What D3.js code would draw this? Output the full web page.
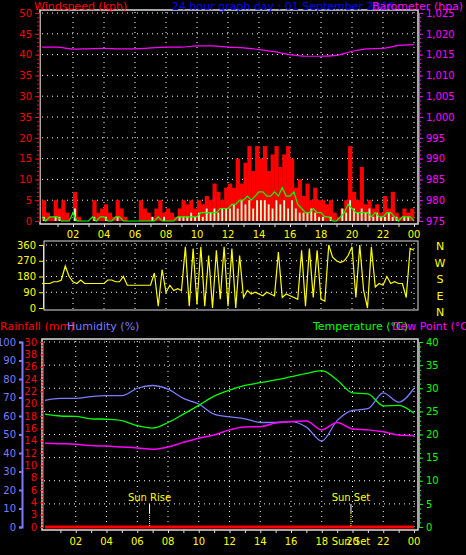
<!DOCTYPE html>
<html><head><meta charset="utf-8">
<script src="https://cdn.jsdelivr.net/npm/d3@7"></script>
<style>body{margin:0;background:#000}svg{display:block}text{font-family:"DejaVu Sans",sans-serif}</style>
</head><body><svg id="chart" width="466" height="555"></svg>
<script>
// quarter-hour samples, 00:00 .. 24:00
var gust = [5,2,1,5, 3,5,2,0, 7,1,0,0, 0,5,2,3, 4,2,1,5, 3,1,0,0, 0,5,3,2, 1,3,5,2, 3,2,1,3, 5,4,5,3,
  5,4,6,5, 9,7,5,8, 9,8,15,9, 14,18,12,18, 15,18,12,16, 18,13,16,18, 15,8,10,6, 9,5,8,5, 5,4,5,2,
  1,3,5,18, 7,5,13,4, 5,3,4,2, 6,3,7,2, 1,3,2,3, 0];
var windAvg = [1,0,1,1, 1,0,0,0, 2,0,0,0, 0,1,0,1, 1,0,0,1, 1,0,0,0, 0,0,0,0, 0,0,1,0, 0,0,0,1, 1,1,1,1,
  1,2,2,2, 2,2,3,3, 3,4,4,5, 5,6,5,6, 7,7,6,6, 7,6,8,6, 6,7,4,3, 2,2,3,2, 2,1,1,0, 0,1,2,4,
  3,2,2,2, 2,1,2,1, 1,2,2,1, 0,1,1,1, 0];
var windSpd = [1,0,0,1, 1,0,0,0, 3,0,0,0, 0,1,0,0, 1,0,0,1, 0,0,0,0, 0,0,0,0, 1,0,0,1, 0,0,0,1, 1,1,2,1,
  2,1,3,2, 3,2,3,3, 3,4,3,5, 4,5,3,5, 5,5,4,3, 5,4,5,3, 5,3,2,2, 2,3,2,1, 1,0,1,0, 0,3,2,5,
  3,2,3,2, 3,1,2,1, 1,2,1,1, 0,1,1,0, 0];
var windDir = [140,140,140,150, 150,160,240,180, 150,140,160,140, 140,140,140,140, 140,160,160,150,
  150,180,130,130, 130,130,130,130, 130,200,10,220, 90,130,100,110, 100,350,10,340, 20,350,10,300,
  0,330,50,350, 10,340,0,300, 60,100,80,90, 80,70,90,80, 70,320,60,80, 70,60,50,330, 10,340,60,330,
  50,40,360,290, 270,260,270,300, 350,60,360,100, 0,350,120,140, 130,180,140,150, 140,140,60,340, 330];
// hourly samples, 00 .. 24
var baro = [1016.8,1016.8,1016.3,1016.4,1016.5,1016.4,1016.4,1016.6,1016.8,1016.8,1017.1,1017.1,1016.8,
  1016.6,1016.2,1015.7,1015.0,1014.6,1014.6,1014.8,1015.8,1016.4,1016.5,1017.2,1017.4];
var temp = [24.4,24,23.9,23.4,23.3,23,21.9,21.4,22.6,24.4,26.3,28.3,29.6,30.6,31.2,31.8,32.5,33.2,33.8,
  31.8,29,28.8,26.2,26.3,24.6];
var humidity = [68.5,69.5,69.5,70.5,71,71,75,76.5,74.5,69.5,66.5,61,59.5,58.5,56.5,56.5,57,54,46.5,57.5,
  63,64,72.5,67.5,75];
var dewPoint = [18.1,18,17.9,17.6,17.5,17.3,17.1,16.8,17.3,18.3,19.2,19.9,21,21.6,21.7,22.5,22.8,22.9,21,
  22.6,21.2,21,20.6,19.9,19.8];
var rain = [0,0,0,0,0,0,0,0,0,0,0,0,0,0,0,0,0,0,0,0,0,0,0,0,0];
var hourLabels = ["02","04","06","08","10","12","14","16","18","20","22","00"];
var windLabels = ["0","5","10","15","20","35","30","35","40","45","50"];
var rainLabels = ["0","3","4","6","8","10","12","14","16","18","20","22","24","26","38","30"];
var compass = ["N","W","S","E","N"];
var sunRise = 6.8, sunSet = 19.9;

var svg = d3.select("#chart");
var q = d3.range(97).map(i => i / 4), hr = d3.range(25);

function dotted(g, x1, y1, x2, y2){
  g.append("line").attr("x1",x1).attr("y1",y1).attr("x2",x2).attr("y2",y2)
    .attr("stroke","#fff").attr("stroke-width",1).attr("stroke-dasharray","1,4");
}
function txt(x, y, s, c, anchor, size){
  return svg.append("text").attr("x",x).attr("y",y).attr("fill",c).attr("font-size",size||10)
    .attr("text-anchor",anchor||"start").text(s);
}

// ---------- TOP PANEL ----------
var x1 = d3.scaleLinear().domain([0,24]).range([42,414]);
var yW = d3.scaleLinear().domain([0,50]).range([221,13]);
var yB = d3.scaleLinear().domain([975,1025]).range([221,13]);
var topG = svg.append("g");
topG.append("rect").attr("x",40).attr("y",10).attr("width",378).attr("height",214)
  .attr("fill","none").attr("stroke","#ddd").attr("stroke-width",1.5);
d3.range(0,51,5).forEach(v => { if(v>0) dotted(topG,42,yW(v),416,yW(v)); });
d3.range(2,25,2).forEach(h => dotted(topG,x1(h),12,x1(h),222));
var bw = x1(0.25)-x1(0);
topG.selectAll(".gust").data(gust).join("rect").attr("x",(d,i)=>x1(q[i])).attr("width",bw+0.3)
  .attr("y",d=>yW(d)).attr("height",d=>yW(0)-yW(d)).attr("fill","#f00");
topG.selectAll(".spd").data(windSpd).join("rect").attr("x",(d,i)=>x1(q[i])+1).attr("width",bw-2)
  .attr("y",d=>yW(d)).attr("height",d=>yW(0)-yW(d)).attr("fill","#ccffcc");
topG.append("path").datum(windAvg).attr("fill","none").attr("stroke","#0f0").attr("stroke-width",1.2)
  .attr("d",d3.line().x((d,i)=>x1(q[i])).y(d=>yW(d)));
topG.append("path").datum(baro).attr("fill","none").attr("stroke","#f0f").attr("stroke-width",1.2)
  .attr("d",d3.line().x((d,i)=>x1(hr[i])).y(d=>yB(d)).curve(d3.curveMonotoneX));
// left axis
var axL = topG.append("g").attr("transform","translate(39,0)")
  .call(d3.axisLeft(yW).tickValues(d3.range(0,51,5)).tickSize(4).tickFormat((d,i)=>windLabels[i]));
axL.append("g").call(d3.axisLeft(yW).tickValues(d3.range(0,51,1)).tickSize(2).tickFormat(""));
axL.selectAll("path,line").attr("stroke","#f00");
axL.selectAll("text").attr("fill","#f00").attr("font-size",10);
var axR = topG.append("g").attr("transform","translate(419,0)")
  .call(d3.axisRight(yB).tickValues(d3.range(975,1026,5)).tickSize(4));
axR.append("g").call(d3.axisRight(yB).tickValues(d3.range(975,1026,1)).tickSize(2).tickFormat(""));
axR.selectAll("path,line").attr("stroke","#f0f");
axR.selectAll("text").attr("fill","#f0f").attr("font-size",10);
var axB = topG.append("g").attr("transform","translate(0,224)")
  .call(d3.axisBottom(x1).tickValues(d3.range(1,25)).tickSize(3).tickFormat(""));
axB.select("path").remove(); axB.selectAll("line").attr("stroke","#ddd");
hourLabels.forEach((s,i) => txt(x1((i+1)*2),238,s,"#ff0","middle"));
txt(34,10,"Windspeed (kph)","#f00","start",11);
txt(172,10,"24 hour graph day : 01 September 2026","#00f","start",11);
txt(372,10,"Barometer (hpa)","#f0f","start",11);

// ---------- MIDDLE PANEL ----------
var yD = d3.scaleLinear().domain([0,360]).range([308,245]);
var mid = svg.append("g");
mid.append("rect").attr("x",44).attr("y",241).attr("width",374).attr("height",69)
  .attr("fill","none").attr("stroke","#ddd").attr("stroke-width",1);
[90,180,270,360].forEach(v => dotted(mid,46,yD(v),416,yD(v)));
d3.range(2,25,2).forEach(h => dotted(mid,x1(h),243,x1(h),309));
mid.append("path").datum(windDir).attr("fill","none").attr("stroke","#ff0").attr("stroke-width",1.2)
  .attr("d",d3.line().x((d,i)=>x1(q[i])).y(d=>yD(d)));
var axD = mid.append("g").attr("transform","translate(43,0)")
  .call(d3.axisLeft(yD).tickValues([0,90,180,270,360]).tickSize(4));
axD.selectAll("path,line").attr("stroke","#ff0");
axD.selectAll("text").attr("fill","#ff0").attr("font-size",10);
compass.forEach((s,i) => txt(440,250+i*16.5,s,"#ff0","middle",11));

// ---------- BOTTOM PANEL ----------
var x3 = d3.scaleLinear().domain([0,24]).range([45,414]);
var yT = d3.scaleLinear().domain([0,40]).range([527,342]);
var yH = d3.scaleLinear().domain([0,100]).range([527,342]);
var yR = d3.scaleLinear().domain([0,30]).range([527,342]);
var bot = svg.append("g");
bot.append("rect").attr("x",42).attr("y",339).attr("width",376).attr("height",191)
  .attr("fill","none").attr("stroke","#ddd").attr("stroke-width",1.5);
d3.range(5,41,5).forEach(v => dotted(bot,44,yT(v),416,yT(v)));
d3.range(2,25,2).forEach(h => dotted(bot,x3(h),341,x3(h),528));
bot.append("path").datum(rain).attr("fill","none").attr("stroke","#f00").attr("stroke-width",3)
  .attr("d",d3.line().x((d,i)=>x3(hr[i])).y(d=>yR(d)));
var line = sc => d3.line().x((d,i)=>x3(hr[i])).y(d=>sc(d)).curve(d3.curveMonotoneX);
bot.append("path").datum(humidity).attr("fill","none").attr("stroke","#7b7bff").attr("stroke-width",1.3).attr("d",line(yH));
bot.append("path").datum(temp).attr("fill","none").attr("stroke","#0f0").attr("stroke-width",1.3).attr("d",line(yT));
bot.append("path").datum(dewPoint).attr("fill","none").attr("stroke","#f0f").attr("stroke-width",1.5).attr("d",line(yT));
// sun rise / set markers
[[sunRise,"Sun Rise"],[sunSet,"Sun Set"]].forEach(m => {
  bot.append("line").attr("x1",x3(m[0])).attr("x2",x3(m[0])).attr("y1",504).attr("y2",513).attr("stroke","#fff");
  bot.append("line").attr("x1",x3(m[0])).attr("x2",x3(m[0])).attr("y1",513).attr("y2",527)
    .attr("stroke","#ff0").attr("stroke-dasharray","1,1");
  txt(x3(m[0]),501,m[1],"#ff0","middle",10);
});
var axH = bot.append("g").attr("transform","translate(22,0)")
  .call(d3.axisLeft(yH).tickValues(d3.range(0,101,10)).tickSize(3));
axH.selectAll("path,line").attr("stroke","#7b7bff").attr("stroke-width",2);
axH.selectAll("text").attr("fill","#7b7bff").attr("font-size",10);
var axRn = bot.append("g").attr("transform","translate(43,0)")
  .call(d3.axisLeft(yR).tickValues(d3.range(0,31,2)).tickSize(3).tickFormat((d,i)=>rainLabels[i]));
axRn.append("g").call(d3.axisLeft(yR).tickValues(d3.range(0,30.1,0.5)).tickSize(1.5).tickFormat(""));
axRn.selectAll("path,line").attr("stroke","#f00");
axRn.selectAll("text").attr("fill","#f00").attr("font-size",10);
var axT = bot.append("g").attr("transform","translate(419,0)")
  .call(d3.axisRight(yT).tickValues(d3.range(0,41,5)).tickSize(4));
axT.append("g").call(d3.axisRight(yT).tickValues(d3.range(0,41,1)).tickSize(2).tickFormat(""));
axT.selectAll("path,line").attr("stroke","#0f0");
axT.selectAll("text").attr("fill","#0f0").attr("font-size",10);
var axB3 = bot.append("g").attr("transform","translate(0,530)")
  .call(d3.axisBottom(x3).tickValues(d3.range(1,25)).tickSize(3).tickFormat(""));
axB3.select("path").remove(); axB3.selectAll("line").attr("stroke","#ddd");
hourLabels.forEach((s,i) => txt(x3((i+1)*2),545,s,"#ff0","middle"));
txt(x3(sunSet),545,"Sun Set","#ff0","middle");
txt(0,330,"Rainfall (mm)","#f00","start",11);
txt(67,330,"Humidity (%)","#7b7bff","start",11);
txt(313,330,"Temperature (°C)","#0f0","start",11);
txt(392,330,"Dew Point (°C)","#f0f","start",11);
</script></body></html>
